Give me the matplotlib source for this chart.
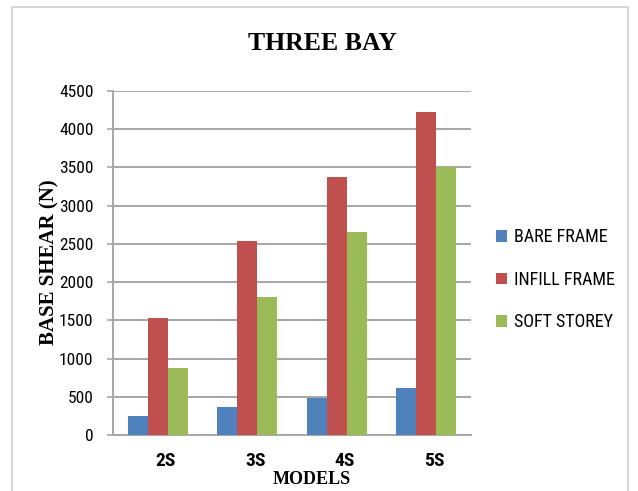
import matplotlib
matplotlib.use('Agg')
import numpy as np
import matplotlib.pyplot as plt
from matplotlib.patches import Patch, Rectangle
from matplotlib.transforms import ScaledTranslation
from matplotlib import font_manager

models = ['2S', '3S', '4S', '5S']
bare_frame = [250, 370, 490, 610]
infill_frame = [1535, 2535, 3380, 4225]
soft_storey = [878, 1810, 2655, 3500]

series = ['BARE FRAME', 'INFILL FRAME', 'SOFT STOREY']
colors = ['#4F81BD', '#C0504D', '#9BBB59']

installed = {f.name for f in font_manager.fontManager.ttflist}
narrow = [f for f in ['Roboto Condensed', 'Liberation Sans Narrow',
                      'DejaVu Sans Condensed', 'Lato'] if f in installed] + ['DejaVu Sans']
serif = ['Liberation Serif', 'DejaVu Serif']

fig = plt.figure(figsize=(6.38, 4.91), dpi=100)
ax = fig.add_axes([0.177, 0.114, 0.561, 0.701])

x = np.arange(len(models))
w = 0.223
for k, vals in enumerate([bare_frame, infill_frame, soft_storey]):
    ax.bar(x + (k - 1) * w, vals, width=w, color=colors[k], label=series[k], zorder=3)

ax.set_xlim(-0.5, len(models) - 0.5)
ax.set_ylim(0, 4500)
ax.set_yticks(np.arange(0, 4501, 500))
ax.yaxis.grid(True, color='#a6a6a6', linewidth=1.4, zorder=0)
ax.set_axisbelow(True)

for s in ['top', 'right']:
    ax.spines[s].set_visible(False)
for s in ['left', 'bottom']:
    ax.spines[s].set_color('#a6a6a6')
    ax.spines[s].set_linewidth(1.4)

ax.tick_params(axis='y', length=4, width=1.2, color='#a6a6a6', pad=10)
ax.tick_params(axis='x', length=0, pad=12)
for lbl in ax.get_yticklabels():
    lbl.set_family(narrow)
    lbl.set_fontsize(12.5)

ax.set_xticks(x)
ax.set_xticklabels(models, family=narrow, fontsize=14, fontweight='bold')
shift = ScaledTranslation(8 / 100, 0, fig.dpi_scale_trans)
for lbl in ax.get_xticklabels():
    lbl.set_transform(lbl.get_transform() + shift)

ax.set_xlabel('MODELS', family=serif, fontsize=13, fontweight='bold')
ax.xaxis.set_label_coords(0.556, -0.128)
ax.xaxis.label.set_va('center')
ax.set_ylabel('BASE SHEAR (N)', family=serif, fontsize=15, fontweight='bold')
ax.yaxis.set_label_coords(-0.177, 0.503)
ax.yaxis.label.set_va('center')

fig.text(0.505, 0.912, 'THREE BAY', family=serif, fontsize=18.5, fontweight='bold',
         ha='center', va='center')

handles = [Patch(facecolor=c, edgecolor='none') for c in colors]
fig.legend(handles, series, loc='center left', bbox_to_anchor=(0.752, 0.43),
           frameon=False, prop={'family': narrow, 'size': 13},
           handlelength=0.6, handleheight=0.6, handletextpad=0.4,
           labelspacing=1.35)

fig.add_artist(Rectangle((12 / 638, -0.02), 616 / 638, 1 - 7 / 491 + 0.02,
                         transform=fig.transFigure, fill=False,
                         edgecolor='#d0d0d0', linewidth=1.2))

fig.savefig('out.png', dpi=100)
